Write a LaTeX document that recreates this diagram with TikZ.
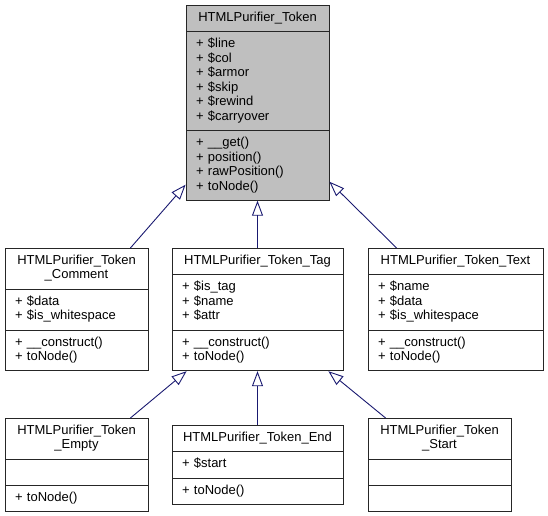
\documentclass[tikz,border=0pt]{standalone}
\usepackage{fontspec}
\setmainfont{Liberation Sans}
\usetikzlibrary{shapes.multipart, arrows.meta}
\definecolor{edgeblue}{HTML}{191970}
\tikzset{
    classbox/.style = {rectangle split, rectangle split parts=3, draw=black!85, line width=0.8pt, anchor=north, text width=#1, inner xsep=10pt, inner ysep=5.5pt, font=\fontsize{13}{14.5}\selectfont}, % text width + 2 x 10pt is the box width
    basebox/.style = {classbox=123pt, fill=black!25},
    inherit/.style = {draw=edgeblue, line width=0.9pt, -{Triangle[open, length=15pt, width=11pt]}}
}
\begin{document}
\begin{tikzpicture}[x=1pt, y=-1pt]
    \useasboundingbox (0,0) rectangle (548,515);
    % base class
    \node [basebox] (token) at (257.5,5) {\centering\strut HTMLPurifier\_Token\par
        \nodepart{two}\raggedright\strut + \$line\\+ \$col\\+ \$armor\\+ \$skip\\+ \$rewind\\+ \$carryover\strut
        \nodepart{three}\raggedright\strut + \_\_get()\\+ position()\\+ rawPosition()\\+ toNode()\strut};
    % first level
    \node [classbox=123pt] (comment) at (76.5,248) {\centering\strut HTMLPurifier\_Token\\\_Comment\strut\par
        \nodepart{two}\raggedright\strut + \$data\\+ \$is\_whitespace\strut
        \nodepart{three}\raggedright\strut + \_\_construct()\\+ toNode()\strut};
    \node [classbox=151pt] (tag) at (257.5,248) {\centering\strut HTMLPurifier\_Token\_Tag\par
        \nodepart{two}\raggedright\strut + \$is\_tag\\+ \$name\\+ \$attr\strut
        \nodepart{three}\raggedright\strut + \_\_construct()\\+ toNode()\strut};
    \node [classbox=155pt] (txt) at (455.5,248) {\centering\strut HTMLPurifier\_Token\_Text\par
        \nodepart{two}\raggedright\strut + \$name\\+ \$data\\+ \$is\_whitespace\strut
        \nodepart{three}\raggedright\strut + \_\_construct()\\+ toNode()\strut};
    % second level
    \node [classbox=123pt] (empty) at (76.5,418) {\centering\strut HTMLPurifier\_Token\\\_Empty\strut\par
        \nodepart{two}\strut
        \nodepart{three}\raggedright\strut + toNode()};
    \node [classbox=151pt] (endtag) at (257.5,425) {\centering\strut HTMLPurifier\_Token\_End\par
        \nodepart{two}\raggedright\strut + \$start
        \nodepart{three}\raggedright\strut + toNode()};
    \node [classbox=123pt] (starttag) at (439.5,418) {\centering\strut HTMLPurifier\_Token\\\_Start\strut\par
        \nodepart{two}\strut
        \nodepart{three}\strut};
    % inheritance
    \draw [inherit] ([xshift=-18pt]comment.north east) -- ([yshift=16pt]token.south west);
    \draw [inherit] (tag.north) -- (token.south);
    \draw [inherit] ([xshift=29pt]txt.north west) -- ([yshift=19pt]token.south east);
    \draw [inherit] ([xshift=-18pt]empty.north east) -- ([xshift=15pt]tag.south west);
    \draw [inherit] (endtag.north) -- (tag.south);
    \draw [inherit] ([xshift=18pt]starttag.north west) -- ([xshift=-15pt]tag.south east);
\end{tikzpicture}
\end{document}
